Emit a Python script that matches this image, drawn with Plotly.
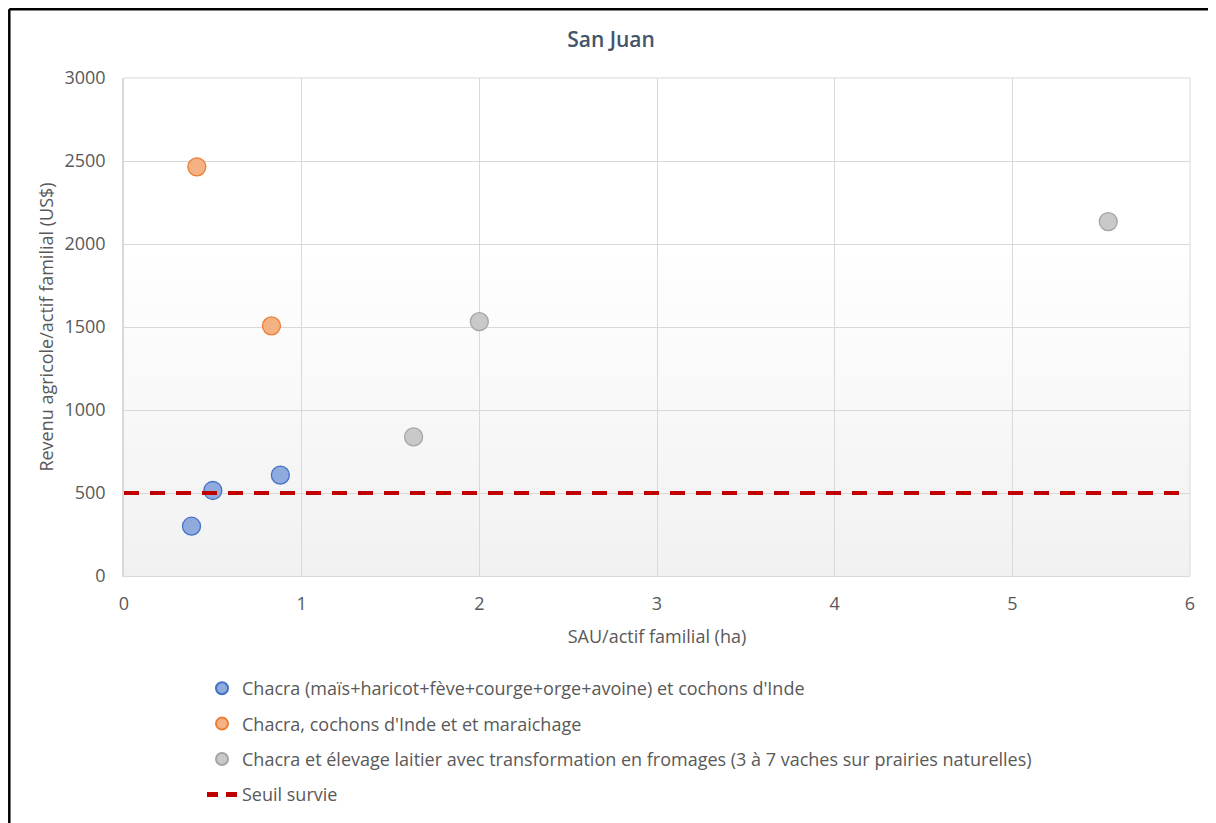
import plotly.graph_objects as go

# data
sau_chacra = [0.38, 0.50, 0.88]
rev_chacra = [300, 515, 608]

sau_maraichage = [0.41, 0.83]
rev_maraichage = [2465, 1507]

sau_laitier = [1.63, 2.00, 5.54]
rev_laitier = [838, 1532, 2135]

seuil_x = [0, 6]
seuil_y = [500, 500]

noms = [
    "Chacra (maïs+haricot+fève+courge+orge+avoine) et cochons d'Inde",
    "Chacra, cochons d'Inde et et maraichage",
    "Chacra et élevage laitier avec transformation en fromages (3 à 7 vaches sur prairies naturelles)",
    "Seuil survie",
]

FONT = "Open Sans"
TXT = "#595959"

# page has an 8px body margin, so the figure is drawn 8px in from the window edge
FIG_W, FIG_H = 1208, 815
L, R, T, B = 116, 26, 70, 247
W, H = FIG_W - L - R, FIG_H - T - B
px = lambda p: (p - 8 - L) / W          # page pixel -> paper x
py = lambda p: (FIG_H - B - (p - 8)) / H  # page pixel -> paper y

fig = go.Figure()

series = [
    (sau_chacra, rev_chacra, "#8faadc", "#4472c4"),
    (sau_maraichage, rev_maraichage, "#f4b183", "#ed7d31"),
    (sau_laitier, rev_laitier, "#c9c9c9", "#a5a5a5"),
]
for i, ((xs, ys, fill, edge), nom) in enumerate(zip(series, noms)):
    fig.add_trace(
        go.Scatter(
            x=xs,
            y=ys,
            mode="markers",
            name=nom,
            legendgroup=f"g{i}",
            marker=dict(size=18, color=fill, line=dict(color=edge, width=1.3)),
        )
    )

# threshold line (plot) + legend-only entry with a shorter dash so two dashes show
fig.add_trace(
    go.Scatter(
        x=seuil_x,
        y=seuil_y,
        mode="lines",
        name=noms[3],
        showlegend=False,
        line=dict(color="#c00000", width=4, dash="15px,11px"),
    )
)
fig.add_trace(
    go.Scatter(
        x=[None],
        y=[None],
        mode="lines",
        name=noms[3],
        legendgroup="g3",
        line=dict(color="#c00000", width=4, dash="11px,8px"),
    )
)

# soft vertical gradient behind the plot (white at 2000 -> light grey at bottom)
shapes = []
n = 30
y_top = 2000 / 3000
for i in range(n):
    y0 = y_top * i / n
    y1 = y_top * (i + 1) / n
    t = (i + 0.5) / n
    g = int(round(241 + (255 - 241) * t))
    shapes.append(
        dict(
            type="rect", xref="paper", yref="paper",
            x0=0, x1=1, y0=y0, y1=y1 + 0.002,
            fillcolor=f"rgb({g},{g},{g})", line_width=0, layer="below",
        )
    )

# outer frame (top and left edges visible in the reference)
shapes.append(dict(type="line", xref="paper", yref="paper",
                   x0=px(9.3), x1=px(1240), y0=py(9.3), y1=py(9.3),
                   line=dict(color="black", width=2.5)))
shapes.append(dict(type="line", xref="paper", yref="paper",
                   x0=px(9.3), x1=px(9.3), y0=py(9.3), y1=py(850),
                   line=dict(color="black", width=2.5)))
# top / right plot-area edges in grid colour
shapes.append(dict(type="line", xref="paper", yref="paper", x0=1, x1=1, y0=0, y1=1,
                   line=dict(color="#d9d9d9", width=1), layer="below"))
shapes.append(dict(type="line", xref="paper", yref="paper", x0=0, x1=1, y0=1, y1=1,
                   line=dict(color="#d9d9d9", width=1), layer="below"))

fig.update_layout(
    width=FIG_W,
    height=FIG_H,
    margin=dict(l=L, r=R, t=T, b=B, autoexpand=False),
    paper_bgcolor="white",
    plot_bgcolor="rgba(0,0,0,0)",
    font=dict(family=FONT, color=TXT, size=18),
    title=dict(
        text="San Juan",
        x=(611 - 8) / FIG_W, xref="container", xanchor="center",
        y=1 - 32 / FIG_H, yref="container", yanchor="middle",
        font=dict(family=FONT, size=21, color="#44546a", weight=600),
    ),
    shapes=shapes,
    showlegend=True,
    legend=dict(
        orientation="v",
        x=px(202), xanchor="left",
        y=py(670), yanchor="top",
        font=dict(family=FONT, size=18, color=TXT),
        tracegroupgap=9,
        traceorder="grouped",
        itemsizing="constant",
        bgcolor="rgba(0,0,0,0)",
    ),
    xaxis=dict(
        range=[0, 6],
        dtick=1,
        showgrid=True,
        gridcolor="#d9d9d9",
        gridwidth=1,
        zeroline=False,
        showline=True,
        linecolor="#d9d9d9",
        linewidth=1,
        ticks="",
        ticklabelstandoff=11,
        tickfont=dict(size=18, color=TXT),
        title=dict(text="SAU/actif familial (ha)", font=dict(size=18, color=TXT), standoff=16),
    ),
    yaxis=dict(
        range=[0, 3000],
        dtick=500,
        showgrid=True,
        gridcolor="#d9d9d9",
        gridwidth=1,
        zeroline=False,
        showline=True,
        linecolor="#d9d9d9",
        linewidth=1.5,
        ticks="",
        ticklabelstandoff=13,
        tickfont=dict(size=18, color=TXT),
        title=dict(text="Revenu agricole/actif familial (US$)", font=dict(size=18, color=TXT), standoff=6),
    ),
)

fig.write_html("out.html")
